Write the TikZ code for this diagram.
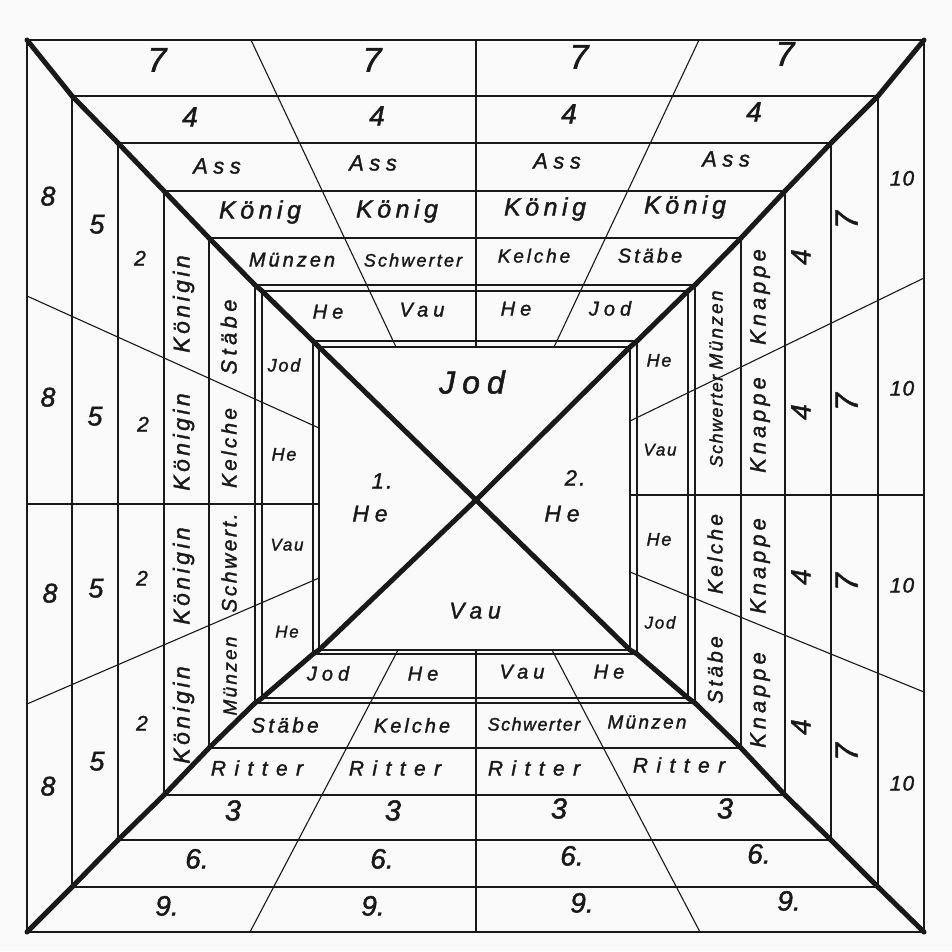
\documentclass[tikz,border=0pt]{standalone}
\usepackage{fontspec}
\setmainfont{Liberation Sans}
\newfontfamily\hand[FakeBold=1.5]{Liberation Sans Italic}
\definecolor{paper}{RGB}{249,250,249}
\definecolor{ink}{RGB}{25,25,25}
\tikzset{
  band/.style={draw=ink, line width=1.3pt},
  divider/.style={draw=ink, line width=1.1pt},
  diag/.style={draw=ink, line width=5pt, line join=round, line cap=round},
  lab/.style={inner sep=0pt, text height=0.7em, text depth=0pt, text=ink},
  f/.style 2 args={lab, font={\hand\fontsize{#1}{#1}\selectfont\addfontfeatures{LetterSpace=#2}}},
  vf/.style 2 args={f={#1}{#2}, rotate=90}
}
\begin{document}
\begin{tikzpicture}[x=1pt,y=-1pt]
\fill[paper] (0,0) rectangle (952,951);
\useasboundingbox (0,0) rectangle (952,951);
% nested frames
\foreach \l/\t/\r/\b in {27/40/924/932, 72/96/878/887, 118/143/831/840, 164/191/785/795,
  209/238/741/748, 255/285/695/703, 262/291/688/698, 313/341/637/654, 319/347/630/650}
  \draw[band] (\l,\t) rectangle (\r,\b);
% dividers top
\draw[divider] (251,40) -- (396,347);
\draw[divider] (476,40) -- (476,347);
\draw[divider] (699,40) -- (554,347);
% dividers bottom
\draw[divider] (398,650) -- (250,932);
\draw[divider] (476,650) -- (476,932);
\draw[divider] (552,650) -- (700,932);
% dividers left
\draw[divider] (27,296) -- (319,428);
\draw[divider] (27,504) -- (319,504);
\draw[divider] (27,704) -- (319,578);
% dividers right
\draw[divider] (924,278) -- (630,421);
\draw[divider] (630,495) -- (924,495);
\draw[divider] (630,572) -- (924,692);
% diagonals
\draw[diag] (27,40) -- (72,96) -- (118,143) -- (164,191) -- (209,238) -- (255,285) -- (262,291) -- (313,341) -- (319,347) -- (476,500);
\draw[diag] (924,40) -- (878,96) -- (831,143) -- (785,191) -- (741,238) -- (695,285) -- (688,291) -- (637,341) -- (630,347) -- (476,500);
\draw[diag] (27,932) -- (72,887) -- (118,840) -- (164,795) -- (209,748) -- (255,703) -- (262,698) -- (313,654) -- (319,650) -- (476,500);
\draw[diag] (924,932) -- (878,887) -- (831,840) -- (785,795) -- (741,748) -- (695,703) -- (688,698) -- (637,654) -- (630,650) -- (476,500);
% ---- top labels
\foreach \x/\y [count=\i] in {157/68,372/68,579/65,785/62} \node[f={34}{10}] (seven\i) at (\x,\y) {7};
\foreach \x/\y [count=\i] in {190/123,377/122,569/120,754/118} \node[f={28}{10}] (four\i) at (\x,\y) {4};
\foreach \x/\y [count=\i] in {217/170,373/167,557/165,726/163} \node[f={22}{25}] (ass\i) at (\x,\y) {Ass};
\foreach \x/\y [count=\i] in {260/215,397/214,545/212,685/210} \node[f={25}{18}] (koenig\i) at (\x,\y) {König};
\node[f={20}{15}] (tsuit1) at (292,263) {Münzen};
\node[f={18}{12}] (tsuit2) at (413,263) {Schwerter};
\node[f={19}{15}] (tsuit3) at (534,259) {Kelche};
\node[f={20}{15}] (tsuit4) at (650,259) {Stäbe};
\node[f={20}{25}] (theb1) at (328,315) {He};
\node[f={20}{25}] (theb2) at (422,313) {Vau};
\node[f={20}{25}] (theb3) at (516,312) {He};
\node[f={20}{25}] (theb4) at (610,312) {Jod};
% ---- inner square
\node[f={32}{22}] (cjod) at (472,390) {Jod};
\node[f={22}{10}] (cone) at (382,485) {1.};
\node[f={23}{25}] (che1) at (370,518) {He};
\node[f={22}{10}] (ctwo) at (575,482) {2.};
\node[f={23}{25}] (che2) at (562,518) {He};
\node[f={23}{25}] (cvau) at (475,615) {Vau};
% ---- left labels
\foreach \x/\y [count=\i] in {48/202,48/403,50/599,48/792} \node[f={27}{0}] (eight\i) at (\x,\y) {8};
\foreach \x/\y [count=\i] in {97/230,95/422,96/594,97/767} \node[f={27}{0}] (five\i) at (\x,\y) {5};
\foreach \x/\y [count=\i] in {140/262,143/428,142/582,142/727} \node[f={21}{0}] (two\i) at (\x,\y) {2};
\foreach \y [count=\i] in {304,442,576,715} \node[vf={23}{15}] (koenigin\i) at (186,\y) {Königin};
\node[vf={22}{20}] (lsuit1) at (233,337) {Stäbe};
\node[vf={21}{15}] (lsuit2) at (233,448) {Kelche};
\node[vf={21}{12}] (lsuit3) at (233,563) {Schwert.};
\node[vf={19}{12}] (lsuit4) at (233,676) {Münzen};
\node[f={18}{10}] (lheb1) at (284,368) {Jod};
\node[f={18}{10}] (lheb2) at (284,457) {He};
\node[f={17}{10}] (lheb3) at (287,547) {Vau};
\node[f={17}{10}] (lheb4) at (287,634) {He};
% ---- right labels
\node[f={18}{10}] (rheb1) at (659,363) {He};
\node[f={17}{10}] (rheb2) at (660,452) {Vau};
\node[f={18}{10}] (rheb3) at (659,542) {He};
\node[f={17}{10}] (rheb4) at (660,625) {Jod};
\node[vf={19}{12}] (rsuit1) at (719,330) {Münzen};
\node[vf={18}{8}] (rsuit2) at (719,421) {Schwerter};
\node[vf={21}{15}] (rsuit3) at (719,554) {Kelche};
\node[vf={21}{15}] (rsuit4) at (719,670) {Stäbe};
\foreach \y [count=\i] in {297,425,566,700} \node[vf={22}{18}] (knappe\i) at (762,\y) {Knappe};
\foreach \y [count=\i] in {257,412,577,727} \node[vf={28}{0}] (rfour\i) at (807,\y) {4};
\foreach \y [count=\i] in {220,402,582,752} \node[vf={32}{0}] (rseven\i) at (854,\y) {7};
\foreach \y [count=\i] in {182,392,589,787} \node[f={21}{5}] (ten\i) at (902,\y) {10};
% ---- bottom labels
\node[f={20}{25}] (bheb1) at (328,677) {Jod};
\node[f={20}{25}] (bheb2) at (423,677) {He};
\node[f={20}{25}] (bheb3) at (522,675) {Vau};
\node[f={20}{25}] (bheb4) at (609,675) {He};
\node[f={21}{15}] (bsuit1) at (285,729) {Stäbe};
\node[f={20}{15}] (bsuit2) at (412,729) {Kelche};
\node[f={18}{8}] (bsuit3) at (534,727) {Schwerter};
\node[f={19}{12}] (bsuit4) at (647,725) {Münzen};
\foreach \x/\y [count=\i] in {257/772,395/772,534/772,679/769} \node[f={21}{40}] (ritter\i) at (\x,\y) {Ritter};
\foreach \x/\y [count=\i] in {233/817,393/817,559/815,725/815} \node[f={29}{0}] (three\i) at (\x,\y) {3};
\foreach \x/\y [count=\i] in {197/865,382/865,572/862,759/860} \node[f={28}{0}] (six\i) at (\x,\y) {6.};
\foreach \x/\y [count=\i] in {167/912,373/912,582/909,789/907} \node[f={28}{0}] (nine\i) at (\x,\y) {9.};
\end{tikzpicture}
\end{document}
